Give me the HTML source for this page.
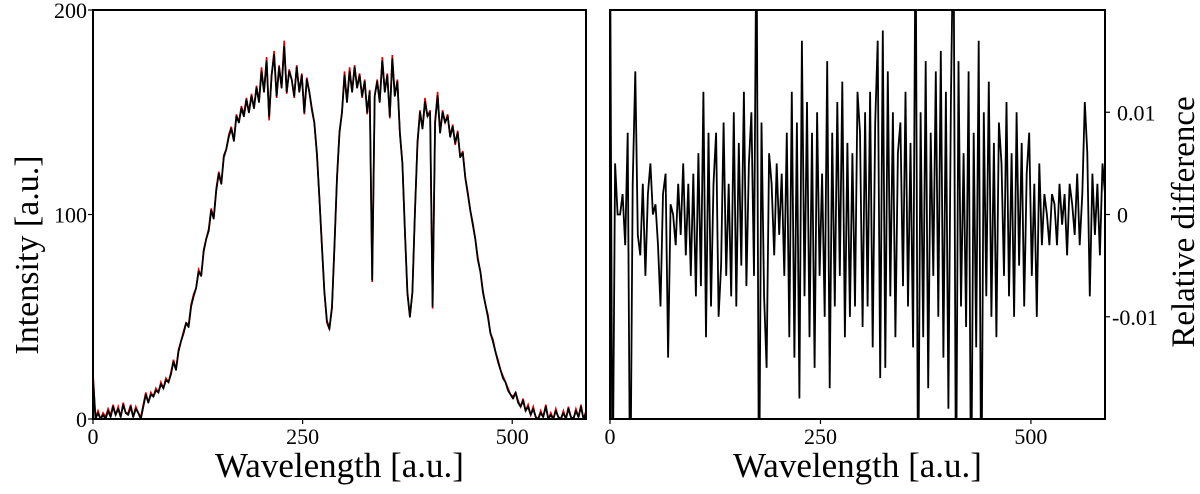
<!DOCTYPE html>
<html><head><meta charset="utf-8">
<style>
html,body{margin:0;padding:0;background:#fff;overflow:hidden;width:1200px;height:494px;}
svg{display:block;font-family:"Liberation Serif",serif;overflow:hidden;}
</style></head>
<body>
<svg id="chart" width="1200" height="494" viewBox="0 0 1200 494"></svg>
<script>
// x axis: wavelength samples (start, step)
const wlStart = 0;
const wlStep = 3;
const xTicks = [0, 250, 500];
const xTickLabels = ["0", "250", "500"];
const leftYTicks = [0, 100, 200];
const leftYTickLabels = ["0", "100", "200"];
const rightYTicks = [0.01, 0, -0.01];
const rightYTickLabels = ["0.01", "0", "-0.01"];

// reconstructed intensity (black)
const intensity = [20,0,3,0,2,0,4,1,6,2,5,1,7,3,2,6,1,5,3,0,
6,12,8,12,11,14,13,17,15,19,18,22,28,24,33,38,42,47,45,55,
60,64,72,70,82,88,92,102,98,112,120,115,128,132,138,142,136,148,145,152,
148,156,150,158,152,162,155,170,160,175,148,168,178,158,172,162,182,160,170,166,
158,172,160,168,150,166,160,152,145,130,108,85,62,48,44,55,85,118,140,150,
168,155,170,160,172,162,168,158,165,150,160,68,158,165,155,175,160,168,148,176,
158,165,140,125,92,62,50,62,102,135,150,142,155,148,150,55,145,158,140,150,
145,148,138,143,135,140,128,130,118,110,102,95,88,78,72,62,56,50,42,38,
33,28,24,20,18,14,12,10,13,8,6,9,4,6,2,5,1,0,3,1,
6,0,2,0,4,1,0,3,0,5,1,0,4,1,6,0,3];
// reference intensity (red)
const refIntensity = [22,1,4,0,3,1,5,2,7,2,6,1,8,3,3,7,1,6,3,1,
7,13,8,13,11,15,13,18,15,20,18,23,29,24,34,38,43,47,46,56,
61,64,73,70,83,88,93,103,98,113,121,115,129,132,139,143,136,149,145,153,
149,157,150,159,152,163,155,172,160,177,146,168,180,157,173,162,185,159,171,166,
157,173,160,169,149,167,160,151,145,129,108,84,62,47,44,54,85,118,141,150,
170,155,172,160,173,162,169,157,166,149,161,67,158,166,155,177,160,169,147,178,
158,166,139,125,92,61,50,62,102,136,151,142,157,148,151,54,146,160,140,151,
145,149,138,144,134,141,128,131,118,111,102,96,88,79,72,63,56,51,42,39,
33,29,24,21,18,15,12,11,13,9,6,10,4,7,2,6,1,0,4,1,
7,0,3,0,5,1,0,4,0,6,1,0,5,1,7,0,4];
// relative difference (x 0.001)
const relDiff = [30,-30,5,0,0,2,-3,8,-30,3,14,-2,-4,3,-6,2,5,0,1,-3,
-9,2,4,-14,1,0,-3,3,-2,5,-4,3,-6,4,-8,6,-7,12,-12,8,
-9,3,8,-10,-5,9,-6,3,-8,10,-9,7,-5,12,-7,5,10,-6,30,-30,
9,-8,-15,6,3,-4,5,-2,4,-6,8,-12,12,-14,9,-18,17,-8,11,-12,
8,-15,10,-6,4,-10,15,-17,8,-9,11,-6,13,-12,7,-10,6,-9,12,8,
-11,10,-9,12,-13,9,17,-16,18,-15,14,-8,10,-12,6,9,-7,12,-9,7,
-13,30,-30,10,-12,15,-17,8,-6,14,-10,16,-14,12,-19,11,30,-30,15,-9,
6,-11,14,-30,8,-13,17,-30,10,-8,13,-10,7,-12,9,5,-6,11,-8,6,
-10,10,-5,7,-9,4,8,-6,3,-10,5,-3,2,0,-3,2,1,-3,3,-1,
2,-4,3,1,-2,4,-3,2,11,6,-8,4,-2,3,-4,5,2];

const NS = "http://www.w3.org/2000/svg";
const svg = document.getElementById("chart");
function mk(tag, attrs, parent) {
  const e = document.createElementNS(NS, tag);
  for (const k in attrs) e.setAttribute(k, attrs[k]);
  (parent || svg).appendChild(e);
  return e;
}
const xMax = 588;
const L = {x0: 93, x1: 586, y0: 10, y1: 419};
const R = {x0: 610, x1: 1105, y0: 10, y1: 419};
const lx = v => L.x0 + v / xMax * (L.x1 - L.x0);
const ly = v => L.y1 - v / 200 * (L.y1 - L.y0);
const rx = v => R.x0 + v / xMax * (R.x1 - R.x0);
const ry = v => (R.y0 + R.y1) / 2 - v / 0.02 * (R.y1 - R.y0) / 2;

const defs = mk("defs", {});
const c1 = mk("clipPath", {id: "clipL"}, defs);
mk("rect", {x: L.x0, y: L.y0, width: L.x1 - L.x0, height: L.y1 - L.y0}, c1);
const c2 = mk("clipPath", {id: "clipR"}, defs);
mk("rect", {x: R.x0, y: R.y0, width: R.x1 - R.x0, height: R.y1 - R.y0}, c2);

let d = "";
refIntensity.forEach((v, i) => { d += (i ? "L" : "M") + lx(wlStart + i * wlStep).toFixed(1) + "," + ly(v).toFixed(1); });
const red = mk("path", {d: d, fill: "none", stroke: "#e00000", "stroke-width": 1.6, "clip-path": "url(#clipL)"});


d = "";
intensity.forEach((v, i) => { d += (i ? "L" : "M") + lx(wlStart + i * wlStep).toFixed(1) + "," + ly(v).toFixed(1); });
const blk = mk("path", {d: d, fill: "none", stroke: "#000", "stroke-width": 1.8, "stroke-linejoin": "round", "clip-path": "url(#clipL)"});



d = "";
relDiff.forEach((v, i) => { d += (i ? "L" : "M") + rx(wlStart + i * wlStep).toFixed(1) + "," + ry(v / 1000).toFixed(1); });
const diff = mk("path", {d: d, fill: "none", stroke: "#000", "stroke-width": 1.8, "clip-path": "url(#clipR)"});



const fL = mk("rect", {x: L.x0, y: L.y0, width: L.x1 - L.x0, height: L.y1 - L.y0, fill: "none", stroke: "#000", "stroke-width": 2});


const fR = mk("rect", {x: R.x0, y: R.y0, width: R.x1 - R.x0, height: R.y1 - R.y0, fill: "none", stroke: "#000", "stroke-width": 2});



[[lx, L], [rx, R]].forEach(([f, P], p) => {
  xTicks.forEach((t, i) => {
    const x = f(t);
    mk("line", {x1: x, x2: x, y1: P.y1, y2: P.y1 + 5, stroke: "#000", "stroke-width": 1.2});
    const tx = mk("text", {x: x, y: P.y1 + 25, "font-size": 22, "text-anchor": "middle", fill: "#000"});
    tx.textContent = xTickLabels[i];
    
    
  });
  const xt = mk("text", {x: (P.x0 + P.x1) / 2, y: 477, "font-size": 35, "text-anchor": "middle", fill: "#000"});
  xt.textContent = "Wavelength [a.u.]";
  
  
});

leftYTicks.forEach((t, i) => {
  const y = ly(t);
  mk("line", {x1: L.x0 - 5, x2: L.x0, y1: y, y2: y, stroke: "#000", "stroke-width": 1.2});
  const tx = mk("text", {x: L.x0 - 6, y: y + 8, "font-size": 22, "text-anchor": "end", fill: "#000"});
  tx.textContent = leftYTickLabels[i];
  
  
});
const yt = mk("text", {x: 0, y: 0, "font-size": 34, "text-anchor": "middle", fill: "#000", transform: "translate(38,255) rotate(-90)"});
yt.textContent = "Intensity [a.u.]";



rightYTicks.forEach((t, i) => {
  const y = ry(t);
  mk("line", {x1: R.x1, x2: R.x1 + 5, y1: y, y2: y, stroke: "#000", "stroke-width": 1.2});
  const tx = mk("text", {x: t < 0 ? R.x1 + 7 : R.x1 + 12, y: y + 8, "font-size": 22, "text-anchor": "start", fill: "#000"});
  tx.textContent = rightYTickLabels[i];
  
  
});
const yt2 = mk("text", {x: 0, y: 0, "font-size": 33, "text-anchor": "middle", fill: "#000", transform: "translate(1194,222) rotate(-90)"});
yt2.textContent = "Relative difference";


</script>
</body></html>
